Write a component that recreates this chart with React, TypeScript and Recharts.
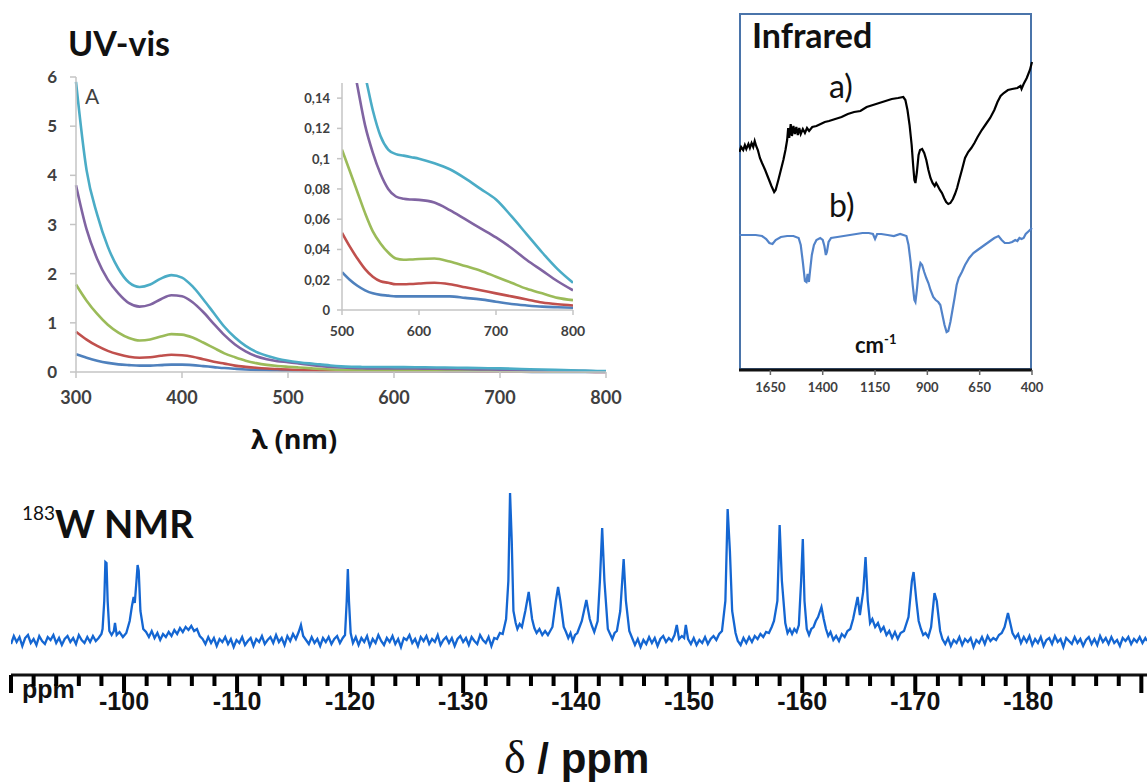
import React from 'react'
import { LineChart, Line, XAxis, YAxis } from 'recharts'

// ---- UV-vis: absorbance vs wavelength (nm), five samples ----
const wavelengths = [300,310,320,330,340,350,360,370,380,390,400,410,420,430,440,450,460,470,480,490,500,510,520,530,540,550,560,570,580,590,600,620,640,660,680,700,720,740,760,780,800]
const absBlue = [0.36,0.29,0.23,0.185,0.155,0.14,0.13,0.13,0.14,0.15, 0.15,0.14,0.12,0.1,0.08,0.065,0.052,0.042,0.035,0.029, 0.025,0.02,0.016,0.013,0.011,0.01,0.0095,0.009,0.009,0.009, 0.009,0.009,0.009,0.008,0.007,0.0055,0.004,0.003,0.0022,0.0018, 0.0015]
const absRed = [0.82,0.66,0.53,0.43,0.36,0.31,0.29,0.3,0.33,0.35, 0.34,0.31,0.26,0.21,0.17,0.13,0.105,0.085,0.07,0.06, 0.051,0.042,0.034,0.027,0.022,0.019,0.018,0.017,0.017,0.0172, 0.0175,0.018,0.017,0.015,0.013,0.011,0.009,0.007,0.005,0.0038, 0.003]
const absGreen = [1.78,1.45,1.18,0.96,0.8,0.69,0.64,0.66,0.72,0.77, 0.76,0.7,0.6,0.49,0.38,0.3,0.23,0.18,0.145,0.122, 0.106,0.092,0.078,0.064,0.052,0.044,0.038,0.034,0.0332,0.0334, 0.0337,0.034,0.032,0.029,0.026,0.022,0.018,0.014,0.011,0.008, 0.0065]
const absPurple = [3.8,2.9,2.3,1.88,1.6,1.4,1.33,1.37,1.48,1.56, 1.54,1.42,1.22,0.98,0.75,0.56,0.42,0.32,0.26,0.22, 0.2,0.175,0.148,0.122,0.104,0.09,0.08,0.075,0.0735,0.073, 0.0728,0.071,0.066,0.06,0.054,0.048,0.041,0.033,0.026,0.019, 0.013]
const absCyan = [5.9,4.1,3.2,2.55,2.1,1.82,1.73,1.78,1.9,1.97, 1.92,1.74,1.48,1.2,0.92,0.7,0.53,0.41,0.33,0.27, 0.23,0.2,0.175,0.155,0.132,0.115,0.106,0.103,0.102,0.101, 0.1,0.097,0.093,0.087,0.08,0.073,0.062,0.05,0.038,0.027, 0.018]

const uvTicksX = [300,400,500,600,700,800]
const uvTicksY = [0,1,2,3,4,5,6]
const insetTicksX = [500,600,700,800]
const insetTicksY = [0,0.02,0.04,0.06,0.08,0.1,0.12,0.14]

// ---- Infrared: [wavenumber cm-1, transmittance (offset, arb.)] ----
const irA = [[1798,218],[1790,223],[1780,220],[1772,225],[1765,221],[1755,226],[1748,222],[1740,227],[1732,223],[1725,229],[1718,224],[1710,220],[1700,212],[1690,207],[1675,200],[1660,192],[1645,184],[1632,178],[1625,180],[1612,190],[1600,200],[1588,210],[1578,220],[1570,230],[1565,242],[1560,232],[1553,246],[1547,234],[1540,244],[1533,236],[1526,243],[1519,235],[1512,242],[1505,236],[1495,241],[1485,237],[1475,242],[1465,239],[1450,243],[1430,244],[1410,246],[1390,248],[1370,249],[1340,251],[1310,253],[1280,256],[1250,258],[1220,259],[1190,263],[1160,265],[1130,267],[1100,269],[1070,271],[1040,272],[1015,273],[1005,270],[995,260],[985,245],[975,225],[968,205],[962,190],[957,187],[950,198],[942,215],[935,220],[925,221],[915,217],[905,210],[895,200],[885,192],[875,187],[865,184],[858,187],[850,184],[840,180],[830,177],[820,172],[810,168],[800,166],[790,167],[778,171],[768,176],[758,182],[748,190],[735,200],[720,212],[705,218],[690,222],[675,227],[660,233],[640,240],[620,246],[600,252],[580,260],[565,268],[550,274],[535,277],[515,280],[495,281],[470,282],[455,284],[450,281],[440,286],[425,292],[410,300],[400,308]]
const irB = [[1798,135],[1760,135],[1720,135],[1690,134],[1670,131],[1655,127],[1640,126],[1625,130],[1600,133],[1570,134],[1540,134],[1515,132],[1505,125],[1495,108],[1485,89],[1478,88],[1472,96],[1466,88],[1460,100],[1452,115],[1442,125],[1430,130],[1412,132],[1400,130],[1392,124],[1385,115],[1380,118],[1372,128],[1360,132],[1330,133],[1300,134],[1270,135],[1240,136],[1210,137],[1180,137],[1160,136],[1150,131],[1140,136],[1120,136],[1090,135],[1060,134],[1030,136],[1000,134],[990,125],[980,108],[970,85],[962,70],[957,68],[950,80],[942,98],[933,107],[925,105],[915,98],[905,92],[895,87],[885,80],[872,73],[860,70],[848,68],[838,65],[828,55],[818,45],[808,38],[800,39],[790,48],[780,60],[770,72],[760,85],[750,92],[735,98],[720,105],[700,112],[680,117],[660,120],[640,123],[620,126],[600,129],[580,132],[560,134],[545,130],[530,127],[510,127],[495,128],[480,130],[470,129],[460,132],[450,131],[440,132],[430,136],[420,138],[410,140],[400,142]]
const irTicks = [1650,1400,1150,900,650,400]

// ---- 183W NMR: [delta ppm, intensity] ----
const nmrSpectrum = [
  [-90,-3],[-90.25,5],[-90.5,-1],[-90.75,4],[-91,-5],[-91.25,3],[-91.5,6],[-91.75,-2],[-92,2],[-92.25,-4],[-92.5,5],[-92.75,0],[-93,-3],[-93.25,4],[-93.5,1],[-93.75,6],[-94,-2],[-94.25,3],[-94.5,-4],[-94.75,2],[-95,5],[-95.25,-1],[-95.5,3],[-95.75,-3],[-96,6],[-96.25,1],[-96.5,-2],[-96.75,4],[-97,-1],[-97.25,5],[-97.5,0],[-97.75,3],[-98,7],
  [-98.1,12],[-98.25,40],[-98.35,79],[-98.45,78],[-98.55,40],[-98.7,10],[-98.9,6],[-99.1,10],[-99.2,18],[-99.35,6],[-99.6,9],[-99.9,4],[-100.2,8],[-100.5,20],[-100.7,35],[-100.85,44],[-100.95,38],[-101.1,60],[-101.2,76],[-101.3,70],[-101.45,30],[-101.7,12],
  [-101.95,9],[-102.2,4],[-102.45,10],[-102.7,3],[-102.95,8],[-103.2,1],[-103.45,7],[-103.7,4],[-103.95,9],[-104.2,5],[-104.45,11],[-104.7,7],[-104.95,13],[-105.2,9],[-105.45,14],[-105.7,11],[-105.95,15],[-106.2,10],[-106.45,12],[-106.7,5],[-106.95,2],[-107.2,-3],[-107.45,4],[-107.7,-2],[-107.95,3],[-108.2,-5],[-108.45,2],[-108.7,-1],[-108.95,4],[-109.2,-3],[-109.45,2],[-109.7,-6],[-109.95,1],
  [-110.2,-2],[-110.45,4],[-110.7,-4],[-110.95,0],[-111.2,3],[-111.45,-5],[-111.7,2],[-111.95,-1],[-112.2,5],[-112.45,-3],[-112.7,1],[-112.95,4],[-113.2,-2],[-113.45,6],[-113.7,-1],[-113.95,3],[-114.2,-4],[-114.45,5],[-114.7,0],[-114.95,7],[-115.2,2],[-115.45,9],[-115.65,16],[-115.85,5],[-116.1,1],[-116.35,-3],[-116.6,4],[-116.85,-2],[-117.1,2],[-117.35,-5],[-117.6,3],[-117.85,-1],[-118.1,4],[-118.35,-3],[-118.6,2],[-118.85,5],[-119.1,-2],[-119.35,3],[-119.55,6],
  [-119.7,40],[-119.8,72],[-119.9,40],[-120.05,8],
  [-120.25,-2],[-120.5,4],[-120.75,-4],[-121,3],[-121.25,-1],[-121.5,5],[-121.75,-5],[-122,2],[-122.25,-2],[-122.5,6],[-122.75,0],[-123,-4],[-123.25,3],[-123.5,-1],[-123.75,5],[-124,-3],[-124.25,2],[-124.5,-6],[-124.75,3],[-125,1],[-125.25,6],[-125.5,-2],[-125.75,2],[-126,-5],[-126.25,4],[-126.5,0],[-126.75,5],[-127,-3],[-127.25,2],[-127.5,-1],[-127.75,6],[-128,-4],[-128.25,1],[-128.5,4],[-128.75,-2],[-129,3],[-129.25,-5],[-129.5,2],[-129.75,5],[-130,-1],[-130.25,3],[-130.5,-4],[-130.75,4],[-131,0],[-131.25,-3],[-131.5,6],[-131.75,1],[-132,-2],[-132.25,4],[-132.5,-5],[-132.75,3],[-133,2],[-133.25,8],[-133.5,7],
  [-133.8,22],[-134,60],[-134.15,148],[-134.3,100],[-134.45,30],[-134.65,18],[-134.8,12],[-135,17],[-135.2,14],[-135.5,30],[-135.8,49],[-136.1,22],[-136.3,13],[-136.5,8],[-136.75,12],[-137,6],[-137.25,10],[-137.5,6],[-137.9,14],[-138.2,40],[-138.4,54],[-138.6,40],[-138.9,14],[-139.1,9],[-139.3,3],[-139.5,8],[-139.7,0],[-139.9,6],[-140.1,8],[-140.5,20],[-140.9,41],[-141.2,22],[-141.4,15],[-141.6,9],[-141.9,20],[-142.1,60],[-142.3,113],[-142.5,60],[-142.8,12],[-143,7],[-143.2,2],[-143.4,8],[-143.6,10],[-143.9,30],[-144.2,82],[-144.4,40],[-144.7,10],
  [-144.95,3],[-145.2,-4],[-145.45,2],[-145.7,-6],[-145.95,1],[-146.2,-3],[-146.45,4],[-146.7,-2],[-146.95,3],[-147.2,-5],[-147.45,2],[-147.7,5],[-147.95,-1],[-148.2,3],[-148.45,0],[-148.7,6],[-148.9,16],[-149.1,2],[-149.35,5],[-149.55,3],[-149.7,16],[-149.9,2],[-150.15,-3],[-150.4,3],[-150.65,-4],[-150.9,1],[-151.15,-2],[-151.4,4],[-151.65,-3],[-151.9,2],[-152.15,5],[-152.4,1],[-152.65,7],[-152.9,10],
  [-153.2,40],[-153.4,132],[-153.6,90],[-153.8,30],[-154.1,8],
  [-154.3,0],[-154.55,-4],[-154.8,3],[-155.05,-2],[-155.3,4],[-155.55,-1],[-155.8,5],[-156.05,2],[-156.3,7],[-156.55,4],[-156.8,9],[-157.05,8],[-157.3,14],[-157.5,20],[-157.8,40],[-158,116],[-158.2,60],[-158.5,18],[-158.7,8],[-158.9,12],[-159.1,7],[-159.3,12],[-159.5,9],[-159.7,16],[-159.9,60],[-160.05,102],[-160.2,40],[-160.4,12],[-160.6,6],[-160.8,12],[-161,14],[-161.2,20],[-161.4,24],[-161.7,34],[-161.9,22],[-162.1,12],[-162.3,5],[-162.5,9],[-162.75,1],[-163,5],[-163.25,0],[-163.5,7],[-163.75,4],[-164,10],[-164.25,12],[-164.5,22],[-164.9,44],[-165.1,26],[-165.4,50],[-165.6,84],[-165.8,40],[-166,18],[-166.2,22],[-166.45,14],[-166.7,18],[-166.95,10],[-167.2,14],[-167.45,6],[-167.7,10],[-167.95,3],[-168.2,9],[-168.45,2],[-168.7,8],[-169,10],[-169.4,24],[-169.7,60],[-169.85,69],[-170.1,40],[-170.3,20],[-170.5,12],[-170.7,6],[-170.9,8],[-171.15,4],[-171.4,14],[-171.7,48],[-171.9,40],[-172.2,10],
  [-172.4,2],[-172.65,-3],[-172.9,3],[-173.15,-5],[-173.4,1],[-173.65,-2],[-173.9,4],[-174.15,-4],[-174.4,2],[-174.65,-1],[-174.9,3],[-175.15,-6],[-175.4,1],[-175.65,-2],[-175.9,4],[-176.15,-3],[-176.4,5],[-176.65,0],[-176.9,3],[-177.15,1],[-177.4,6],[-177.65,8],[-177.9,14],[-178.2,28],[-178.4,18],[-178.6,8],[-178.85,3],[-179.1,7],[-179.35,-2],[-179.6,4],[-179.85,-1],
  [-180.1,5],[-180.35,-4],[-180.6,2],[-180.85,-2],[-181.1,4],[-181.35,-5],[-181.6,1],[-181.85,3],[-182.1,-3],[-182.35,5],[-182.6,-1],[-182.85,2],[-183.1,-6],[-183.35,3],[-183.6,0],[-183.85,-3],[-184.1,4],[-184.35,-2],[-184.6,2],[-184.85,-5],[-185.1,1],[-185.35,4],[-185.6,-3],[-185.85,2],[-186.1,-4],[-186.35,5],[-186.6,-1],[-186.85,3],[-187.1,-3],[-187.35,4],[-187.6,-2],[-187.85,1],[-188.1,-5],[-188.35,3],[-188.6,0],[-188.85,4],[-189.1,-3],[-189.35,2],[-189.6,-1],[-189.85,4],[-190.1,-2],[-190.35,3],[-190.5,0],
]
const nmrTicks = Array.from({ length: 51 }, (_, i) => -90 - 2 * i)

const uvRows = wavelengths.map((wl, i) => ({
  wl, blue: absBlue[i], red: absRed[i], green: absGreen[i], purple: absPurple[i], cyan: absCyan[i],
}))
const insetRows = uvRows.filter(r => r.wl >= 500)
const irARows = irA.map(([wn, t]) => ({ wn, t }))
const irBRows = irB.map(([wn, t]) => ({ wn, t }))
const nmrRows = nmrSpectrum.map(([ppm, v]) => ({ ppm, v }))

const uvSeries = [
  { key: 'blue', color: '#4f81bd' },
  { key: 'red', color: '#c0504d' },
  { key: 'green', color: '#9bbb59' },
  { key: 'purple', color: '#8064a2' },
  { key: 'cyan', color: '#4bacc6' },
]

const sans = 'Lato, "Open Sans", sans-serif'
const arial = '"Liberation Sans", Arial, sans-serif'
const grey = '#c4c4c4'

function UvXTick(p: any) {
  return <text x={p.x} y={p.y} dy={26} textAnchor="middle" fontFamily={sans} fontWeight={700} fontSize={18} fill="#404040">{p.payload.value}</text>
}
function UvYTick(p: any) {
  return <text x={p.x} y={p.y} dy={6} textAnchor="end" fontFamily={sans} fontWeight={700} fontSize={17} fill="#404040">{p.payload.value}</text>
}
function InsetXTick(p: any) {
  return <text x={p.x} y={p.y} dy={21} textAnchor="middle" fontFamily={sans} fontWeight={700} fontSize={14} fill="#404040">{p.payload.value}</text>
}
function InsetYTick(p: any) {
  return <text x={p.x} y={p.y} dy={5} textAnchor="end" fontFamily={sans} fontWeight={700} fontSize={13} fill="#404040">{String(p.payload.value).replace('.', ',')}</text>
}
function IrTick(p: any) {
  return <text x={p.x} y={p.y} dy={17} textAnchor="middle" fontFamily={sans} fontWeight={700} fontSize={13} fill="#404040">{p.payload.value}</text>
}
// tick marks: long every 10 ppm, short every 2 ppm
function NmrTick(p: any) {
  const v = p.payload.value
  const major = v % 10 === 0
  const x = Number(p.x)
  const y = Number(p.y)
  return (
    <g>
      <rect x={x - 2} y={y} width={4} height={major ? 18 : 11} fill="#000" stroke="none" />
      {major && v <= -100 && v >= -180 && (
        <text x={x} y={y} dy={35} textAnchor="middle" fontFamily={arial} fontWeight={700} fontSize={25} fill="#111">{v}</text>
      )}
    </g>
  )
}

export default function App() {
  return (
    <div style={{ position: 'absolute', left: 0, top: 0, width: 1147, height: 784, background: '#fff' }}>
      {/* UV-vis main */}
      <div style={{ position: 'absolute', left: 0, top: 60 }}>
        <LineChart width={640} height={400} data={uvRows} margin={{ top: 17, right: 34, left: 0, bottom: 0 }}>
          <XAxis dataKey="wl" type="number" domain={[300, 800]} ticks={uvTicksX} interval={0} height={88}
            tickSize={6} tickMargin={0} axisLine={{ stroke: grey, strokeWidth: 1.5 }} tickLine={{ stroke: grey, strokeWidth: 1.5 }} tick={<UvXTick />} />
          <YAxis type="number" domain={[0, 6]} ticks={uvTicksY} interval={0} width={76}
            tickSize={6} tickMargin={13} axisLine={{ stroke: grey, strokeWidth: 1.5 }} tickLine={{ stroke: grey, strokeWidth: 1.5 }} tick={<UvYTick />} />
          {uvSeries.map(s => (
            <Line key={s.key} dataKey={s.key} stroke={s.color} strokeWidth={2.6} dot={false} type="monotone" isAnimationActive={false} />
          ))}
        </LineChart>
      </div>

      {/* UV-vis inset 500-800 nm */}
      <div style={{ position: 'absolute', left: 282, top: 70 }}>
        <LineChart width={320} height={290} data={insetRows} margin={{ top: 13, right: 29, left: 0, bottom: 0 }}>
          <XAxis dataKey="wl" type="number" domain={[500, 800]} allowDataOverflow ticks={insetTicksX} interval={0} height={50}
            tickSize={5} tickMargin={0} axisLine={{ stroke: grey, strokeWidth: 1.5 }} tickLine={{ stroke: grey, strokeWidth: 1.5 }} tick={<InsetXTick />} />
          <YAxis type="number" domain={[0, 0.15]} allowDataOverflow ticks={insetTicksY} interval={0} width={60}
            tickSize={5} tickMargin={7} axisLine={{ stroke: grey, strokeWidth: 1.5 }} tickLine={{ stroke: grey, strokeWidth: 1.5 }} tick={<InsetYTick />} />
          {uvSeries.map(s => (
            <Line key={s.key} dataKey={s.key} stroke={s.color} strokeWidth={2.6} dot={false} type="monotone" isAnimationActive={false} />
          ))}
        </LineChart>
      </div>

      {/* Infrared */}
      <div style={{ position: 'absolute', left: 739, top: 13, width: 293, height: 357, border: '2px solid #4a74aa', boxSizing: 'border-box' }} />
      <div style={{ position: 'absolute', left: 739, top: 13 }}>
        <LineChart width={318} height={392} margin={{ top: 0, right: 25, left: 0, bottom: 0 }}>
          <XAxis dataKey="wn" type="number" domain={[400, 1800]} reversed ticks={irTicks} interval={0} height={35}
            tickSize={5} tickMargin={0} axisLine={{ stroke: '#111', strokeWidth: 3 }} tickLine={{ stroke: '#666', strokeWidth: 1.5 }} tick={<IrTick />} />
          <YAxis hide type="number" domain={[0, 357]} />
          <Line data={irARows} dataKey="t" stroke="#000" strokeWidth={2.2} dot={false} type="linear" isAnimationActive={false} />
          <Line data={irBRows} dataKey="t" stroke="#5283c9" strokeWidth={2.2} dot={false} type="linear" isAnimationActive={false} />
        </LineChart>
      </div>

      {/* titles and labels */}
      <svg width={1147} height={784} style={{ position: 'absolute', left: 0, top: 0, pointerEvents: 'none' }}>
        <text x={68} y={56} fontFamily={sans} fontWeight={700} fontSize={34} fill="#111">UV-vis</text>
        <text x={85} y={104} fontFamily={sans} fontSize={21} fill="#404040">A</text>
        <text x={294} y={449} textAnchor="middle" fontFamily='"Open Sans", sans-serif' fontWeight={700} fontSize={27} fill="#111">λ (nm)</text>
        <text x={752} y={48} fontFamily={sans} fontWeight={700} fontSize={34} fill="#111">Infrared</text>
        <text x={829} y={98} fontFamily={sans} fontSize={32} fill="#111">a)</text>
        <text x={829} y={217} fontFamily={sans} fontSize={32} fill="#111">b)</text>
        <text x={855} y={353} fontFamily={sans} fontWeight={700} fontSize={22} fill="#111">cm<tspan fontSize={13} dy={-9}>-1</tspan></text>
        <text x={22} y={538} fontFamily={sans} fill="#111"><tspan fontSize={19} dy={-18}>183</tspan><tspan fontSize={38} fontWeight={700} dy={18}>W NMR</tspan></text>
        <text x={22} y={698} fontFamily={arial} fontWeight={700} fontSize={25} fill="#111">ppm</text>
        <text x={504} y={773} fill="#111"><tspan fontFamily='"Liberation Serif", "DejaVu Serif", serif' fontSize={46}>δ</tspan><tspan fontFamily={arial} fontWeight={700} fontSize={42}> / ppm</tspan></text>
      </svg>

      {/* 183W NMR, drawn last so its axis sits above every other layer */}
      <div style={{ position: 'absolute', left: 0, top: 480 }}>
        <LineChart width={1147} height={255} margin={{ top: 0, right: 0, left: 11, bottom: 0 }}>
          <XAxis dataKey="ppm" type="number" domain={[-190.5, -90]} reversed allowDataOverflow ticks={nmrTicks} interval={0} height={60}
            tickSize={0} tickMargin={0} tickLine={false} axisLine={{ stroke: '#111', strokeWidth: 3 }} tick={<NmrTick />} />
          <YAxis hide type="number" domain={[-34, 161]} />
          <Line data={nmrRows} dataKey="v" stroke="#1466d2" strokeWidth={2.3} dot={false} type="linear" isAnimationActive={false} />
        </LineChart>
      </div>
    </div>
  )
}
